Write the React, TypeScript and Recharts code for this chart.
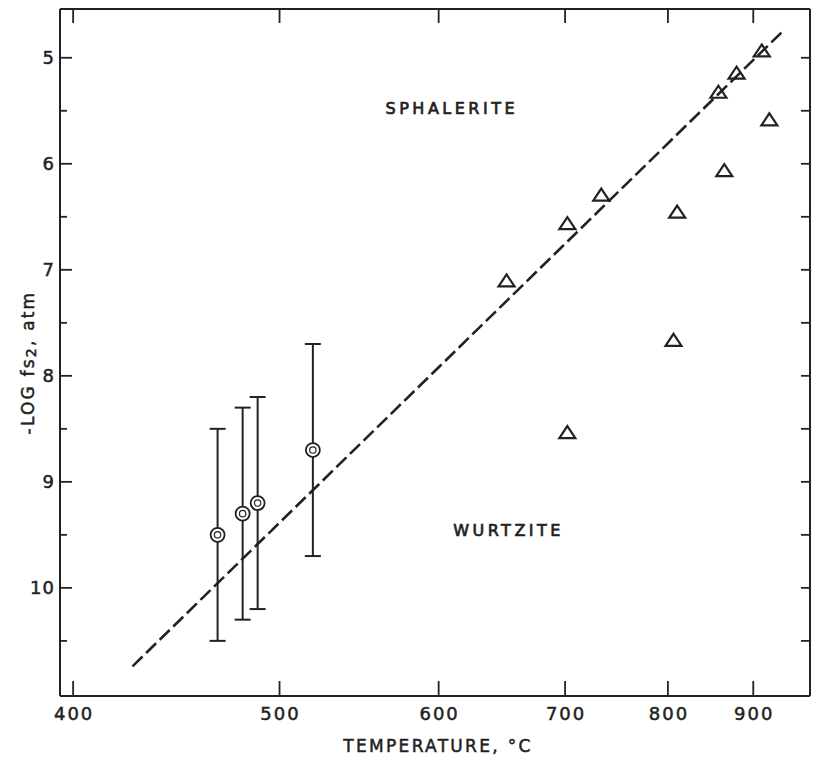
import { ComposedChart, ErrorBar, Line, Scatter, XAxis, YAxis } from "recharts";

const INK = "#222";
const FONT = '"DejaVu Sans", "Liberation Sans", sans-serif';

// circles with error bars (temperature in °C, -log fS2)
const circleTemperatures = [467, 480, 488, 519];
const circleLogFs2 = [9.5, 9.3, 9.2, 8.7];
const circleErrors = [1.0, 1.0, 1.0, 1.0];

// open triangles
const triangleTemperatures = [651, 702, 702, 733, 806, 810, 857, 864, 879, 911, 921];
const triangleLogFs2 = [7.11, 6.57, 8.54, 6.3, 7.67, 6.46, 5.33, 6.07, 5.15, 4.94, 5.59];

// dashed sphalerite / wurtzite boundary
const boundaryTemperatures = [426, 939];
const boundaryLogFs2 = [10.74, 4.75];

const fieldNames = ["SPHALERITE", "WURTZITE"];
const fieldTemperatures = [608, 651];
const fieldLogFs2 = [5.48, 9.46];

const temperatureTicks = [400, 500, 600, 700, 800, 900];
const logTicks = [5, 5.5, 6, 6.5, 7, 7.5, 8, 8.5, 9, 9.5, 10, 10.5];
const temperatureRange = [394.5, 977.5];
const logRange = [4.54, 11.02];

// x axis is reciprocal absolute temperature
const toReciprocal = (t: number) => 1000 / (t + 273.15);
const fromReciprocal = (u: number) => 1000 / u - 273.15;

const circleData = circleTemperatures.map((t, i) => ({
  x: toReciprocal(t),
  y: circleLogFs2[i],
  err: circleErrors[i],
}));
const triangleData = triangleTemperatures.map((t, i) => ({ x: toReciprocal(t), y: triangleLogFs2[i] }));
const boundaryData = boundaryTemperatures.map((t, i) => ({ x: toReciprocal(t), y: boundaryLogFs2[i] }));
const fieldData = fieldNames.map((name, i) => ({
  x: toReciprocal(fieldTemperatures[i]),
  y: fieldLogFs2[i],
  name,
}));

const xDomain = [toReciprocal(temperatureRange[1]), toReciprocal(temperatureRange[0])];
const xTicks = temperatureTicks.map(toReciprocal);

// scanned lettering is heavy, so give text a thin outline
const letterStyle = { fill: INK, stroke: INK, strokeWidth: 0.5, fontFamily: FONT };

function BottomTick(props: any) {
  const { x, y, payload } = props;
  return (
    <g>
      <line x1={x} x2={x} y1={y} y2={y - 15} stroke={INK} strokeWidth={1.8} />
      <text x={x + 1} y={y + 24} textAnchor="middle" fontSize={18} letterSpacing={2} {...letterStyle}>
        {Math.round(fromReciprocal(payload.value))}
      </text>
    </g>
  );
}

function TopTick(props: any) {
  const { x, y } = props;
  return <line x1={x} x2={x} y1={y} y2={y + 14} stroke={INK} strokeWidth={1.8} />;
}

function LeftTick(props: any) {
  const { x, y, payload } = props;
  const major = Number.isInteger(payload.value);
  return (
    <g>
      <line x1={x} x2={x + (major ? 12 : 7)} y1={y} y2={y} stroke={INK} strokeWidth={1.8} />
      {major && (
        <text x={x - 5} y={y} dy="0.36em" textAnchor="end" fontSize={18} letterSpacing={1} {...letterStyle}>
          {payload.value}
        </text>
      )}
    </g>
  );
}

function RightTick(props: any) {
  const { x, y } = props;
  return <line x1={x} x2={x - 9} y1={y} y2={y} stroke={INK} strokeWidth={1.8} />;
}

function CircleMark(props: any) {
  const { cx, cy } = props;
  return (
    <g>
      <circle cx={cx} cy={cy} r={7} fill="#fff" stroke={INK} strokeWidth={1.8} />
      <circle cx={cx} cy={cy} r={3.2} fill="none" stroke={INK} strokeWidth={1.2} />
    </g>
  );
}

function TriangleMark(props: any) {
  const { cx, cy } = props;
  return (
    <path
      d={`M${cx},${cy - 7} L${cx + 8},${cy + 5} L${cx - 8},${cy + 5} Z`}
      fill="none"
      stroke={INK}
      strokeWidth={2.2}
      strokeLinejoin="miter"
    />
  );
}

function FieldLabel(props: any) {
  const { cx, cy, payload } = props;
  return (
    <text
      x={cx + 2}
      y={cy}
      dominantBaseline="central"
      textAnchor="middle"
      fontSize={16}
      letterSpacing={3.5}
      {...letterStyle}
      strokeWidth={0.7}
    >
      {payload.name}
    </text>
  );
}

function XTitle(props: any) {
  const { viewBox } = props;
  return (
    <text
      x={viewBox.x + viewBox.width / 2 + 3}
      y={viewBox.y + 56}
      textAnchor="middle"
      fontSize={17}
      letterSpacing={2.3}
      {...letterStyle}
    >
      TEMPERATURE, °C
    </text>
  );
}

function YTitle(props: any) {
  const { viewBox } = props;
  const cx = viewBox.x + 8;
  const cy = viewBox.y + viewBox.height / 2 + 10;
  return (
    <text
      x={cx}
      y={cy}
      transform={`rotate(-90, ${cx}, ${cy})`}
      textAnchor="middle"
      dominantBaseline="central"
      fontSize={17}
      letterSpacing={2.2}
      {...letterStyle}
    >
      -LOG fs
      <tspan dy={3} fontSize={14}>
        2
      </tspan>
      <tspan dy={-3}>, atm</tspan>
    </text>
  );
}

export default function App() {
  return (
    <div style={{ position: "absolute", left: 0, top: 0, width: 813, height: 760, background: "#fff" }}>
      <ComposedChart width={813} height={760} margin={{ top: 8, right: 2, bottom: 0, left: 20 }}>
        <XAxis
          xAxisId="bottom"
          type="number"
          dataKey="x"
          domain={xDomain}
          reversed
          allowDataOverflow
          ticks={xTicks}
          interval={0}
          height={64}
          tickSize={0}
          tickMargin={0}
          tickLine={false}
          axisLine={{ stroke: INK, strokeWidth: 2 }}
          tick={(p: any) => <BottomTick {...p} />}
          label={{ content: (p: any) => <XTitle {...p} /> }}
        />
        <XAxis
          xAxisId="top"
          orientation="top"
          type="number"
          dataKey="x"
          domain={xDomain}
          reversed
          allowDataOverflow
          ticks={xTicks}
          interval={0}
          height={1}
          tickSize={0}
          tickMargin={0}
          tickLine={false}
          axisLine={{ stroke: INK, strokeWidth: 2 }}
          tick={(p: any) => <TopTick {...p} />}
        />
        <YAxis
          yAxisId="left"
          type="number"
          dataKey="y"
          domain={logRange}
          reversed
          allowDataOverflow
          ticks={logTicks}
          interval={0}
          width={40}
          tickSize={0}
          tickMargin={0}
          tickLine={false}
          axisLine={{ stroke: INK, strokeWidth: 2 }}
          tick={(p: any) => <LeftTick {...p} />}
          label={{ content: (p: any) => <YTitle {...p} /> }}
        />
        <YAxis
          yAxisId="right"
          orientation="right"
          type="number"
          dataKey="y"
          domain={logRange}
          reversed
          allowDataOverflow
          ticks={logTicks}
          interval={0}
          width={1}
          tickSize={0}
          tickMargin={0}
          tickLine={false}
          axisLine={{ stroke: INK, strokeWidth: 2 }}
          tick={(p: any) => <RightTick {...p} />}
        />
        <Line
          xAxisId="bottom"
          yAxisId="left"
          data={boundaryData}
          dataKey="y"
          stroke={INK}
          strokeWidth={2.6}
          strokeDasharray="14 5"
          dot={false}
          activeDot={false}
          isAnimationActive={false}
        />
        <Scatter
          xAxisId="bottom"
          yAxisId="left"
          data={circleData}
          shape={(p: any) => <CircleMark {...p} />}
          isAnimationActive={false}
        >
          <ErrorBar dataKey="err" direction="y" width={8} stroke={INK} strokeWidth={2} />
        </Scatter>
        <Scatter
          xAxisId="bottom"
          yAxisId="left"
          data={triangleData}
          shape={(p: any) => <TriangleMark {...p} />}
          isAnimationActive={false}
        />
        <Scatter
          xAxisId="bottom"
          yAxisId="left"
          data={fieldData}
          shape={(p: any) => <FieldLabel {...p} />}
          isAnimationActive={false}
        />
      </ComposedChart>
    </div>
  );
}
